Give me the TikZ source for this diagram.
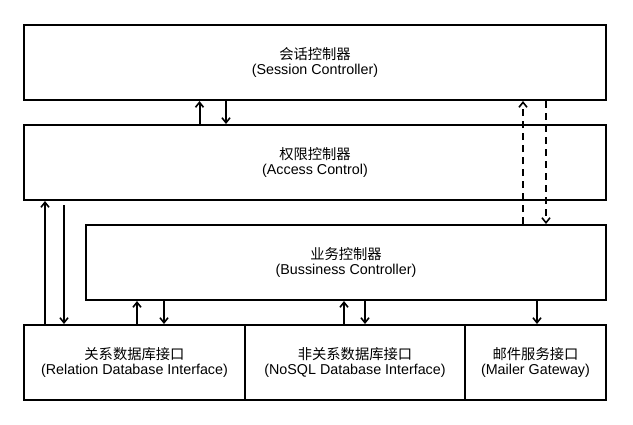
\documentclass[tikz,border=0pt]{standalone}
\usepackage{fontspec}
\setmainfont{Liberation Sans}
\newfontfamily\cjk{Noto Sans CJK SC}
\usetikzlibrary{arrows.meta}
\begin{document}
\begin{tikzpicture}[x=1pt,y=-1pt,
  box/.style={draw,line width=2pt,inner sep=0pt,align=center,
    font=\fontsize{14.3}{15.5}\selectfont},
  arr/.style={line width=2pt,-{Straight Barb[length=5pt,width=8pt,line width=1.6pt]}},
  darr/.style={arr,dash pattern=on 7pt off 5pt}]
\useasboundingbox[fill=white] (0,0) rectangle (633,424);
\node[box,minimum width=582pt,minimum height=75pt] (session) at (315,62.5)
  {{\cjk 会话控制器}\\(Session Controller)};
\node[box,minimum width=582pt,minimum height=75pt] (access) at (315,162.5)
  {{\cjk 权限控制器}\\(Access Control)};
\node[box,minimum width=520pt,minimum height=75pt] (biz) at (346,262.5)
  {{\cjk 业务控制器}\\(Bussiness Controller)};
\node[box,minimum width=221pt,minimum height=75pt] (rel) at (134.5,362.5)
  {{\cjk 关系数据库接口}\\(Relation Database Interface)};
\node[box,minimum width=220pt,minimum height=75pt] (nosql) at (355,362.5)
  {{\cjk 非关系数据库接口}\\(NoSQL Database Interface)};
\node[box,minimum width=141pt,minimum height=75pt] (mail) at (535.5,362.5)
  {{\cjk 邮件服务接口}\\(Mailer Gateway)};
% x positions of connectors
\coordinate (xa) at (199.5,0);
\coordinate (xb) at (226,0);
\coordinate (xc) at (45,0);
\coordinate (xd) at (64,0);
\coordinate (xe) at (137,0);
\coordinate (xf) at (164,0);
\coordinate (xg) at (344,0);
\coordinate (xh) at (365,0);
\coordinate (xi) at (537,0);
\coordinate (xj) at (523,0);
\coordinate (xk) at (546,0);
% session <-> access
\draw[arr] (access.north -| xa) -- (session.south -| xa);
\draw[arr] (session.south -| xb) -- (access.north -| xb);
% access <-> relational
\draw[arr] (rel.north -| xc) -- (access.south -| xc);
\draw[arr,shorten <=4pt] (access.south -| xd) -- (rel.north -| xd);
% business <-> relational
\draw[arr] (rel.north -| xe) -- (biz.south -| xe);
\draw[arr] (biz.south -| xf) -- (rel.north -| xf);
% business <-> nosql
\draw[arr] (nosql.north -| xg) -- (biz.south -| xg);
\draw[arr] (biz.south -| xh) -- (nosql.north -| xh);
% business -> mailer
\draw[arr] (biz.south -| xi) -- (mail.north -| xi);
% business <-> session (dashed)
\draw[darr] (biz.north -| xj) -- (session.south -| xj);
\draw[darr] (session.south -| xk) -- (biz.north -| xk);
\end{tikzpicture}
\end{document}
